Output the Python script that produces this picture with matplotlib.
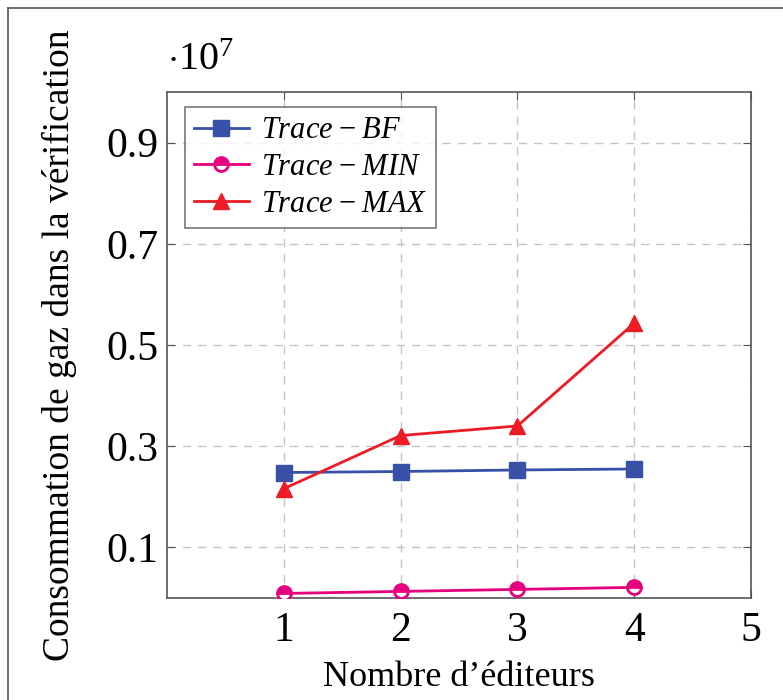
import matplotlib
matplotlib.use("Agg")
from matplotlib import pyplot as plt
from matplotlib.lines import Line2D

editeurs = [1, 2, 3, 4]
trace_bf = [0.248, 0.250, 0.253, 0.255]
trace_min = [0.009, 0.013, 0.017, 0.021]
trace_max = [0.216, 0.321, 0.340, 0.543]
yticks = [0.1, 0.3, 0.5, 0.7, 0.9]
xticks = [1, 2, 3, 4, 5]

plt.rcParams['font.family'] = ['Liberation Serif', 'DejaVu Serif']
plt.rcParams['mathtext.fontset'] = 'custom'
plt.rcParams['mathtext.rm'] = 'Liberation Serif'
plt.rcParams['mathtext.it'] = 'Liberation Serif:italic'

fig = plt.figure(figsize=(7.83, 7.0), dpi=100)
ax = fig.add_axes([167/783, 1-598/700, (751-167)/783, (598-92)/700])

blue = '#3651a6'
pink = '#e6007e'
red = '#ed1c24'

ax.plot(editeurs, trace_bf, color=blue, lw=2, marker='s', ms=11, label=r'$Trace\;{-}\;BF$', zorder=3)
ax.plot(editeurs, trace_min, color=pink, lw=2, marker='o', ms=10, mew=2, fillstyle='top',
        markerfacecoloralt='white', label=r'$Trace\;{-}\;MIN$', zorder=3)
ax.plot(editeurs, trace_max, color=red, lw=2, marker='^', ms=11, label=r'$Trace\;{-}\;MAX$', zorder=3)

ax.set_xlim(0, 5)
ax.set_ylim(0, 1.0)
ax.set_xticks(xticks)
ax.set_yticks(yticks)
ax.set_yticklabels([str(v) for v in yticks])
ax.tick_params(direction='in', top=True, right=True, labelsize=30, length=6, color='#555555')
ax.tick_params(axis='y', pad=6)
ax.tick_params(axis='x', pad=10)
ax.grid(True, linestyle=(0, (6, 5)), color='#c4c4c4', lw=1)
for s in ax.spines.values():
    s.set_color('#555555')
    s.set_linewidth(1.2)

ax.set_xlabel("Nombre d\u2019éditeurs", fontsize=26, labelpad=8)
ax.set_ylabel("Consommation de gaz dans la vérification", fontsize=27, labelpad=21)
ax.text(0.0, 1.025, r'$\cdot 10^{7}$', transform=ax.transAxes, fontsize=29, ha='left', va='bottom')

leg = ax.legend(loc='upper left', bbox_to_anchor=(0.03, 0.97), fontsize=22, frameon=True,
                fancybox=False, edgecolor='#555555', handlelength=1.8, borderpad=0.3,
                labelspacing=0.25, handletextpad=0.4, borderaxespad=0)
leg.get_frame().set_linewidth(1.2)

# left and top border of the cropped frame
fig.add_artist(Line2D([8/783, 8/783], [0, 1-8/700], color='#555555', lw=1.2))
fig.add_artist(Line2D([8/783, 1], [1-8/700, 1-8/700], color='#555555', lw=1.2))

fig.savefig('out.png', dpi=100)
